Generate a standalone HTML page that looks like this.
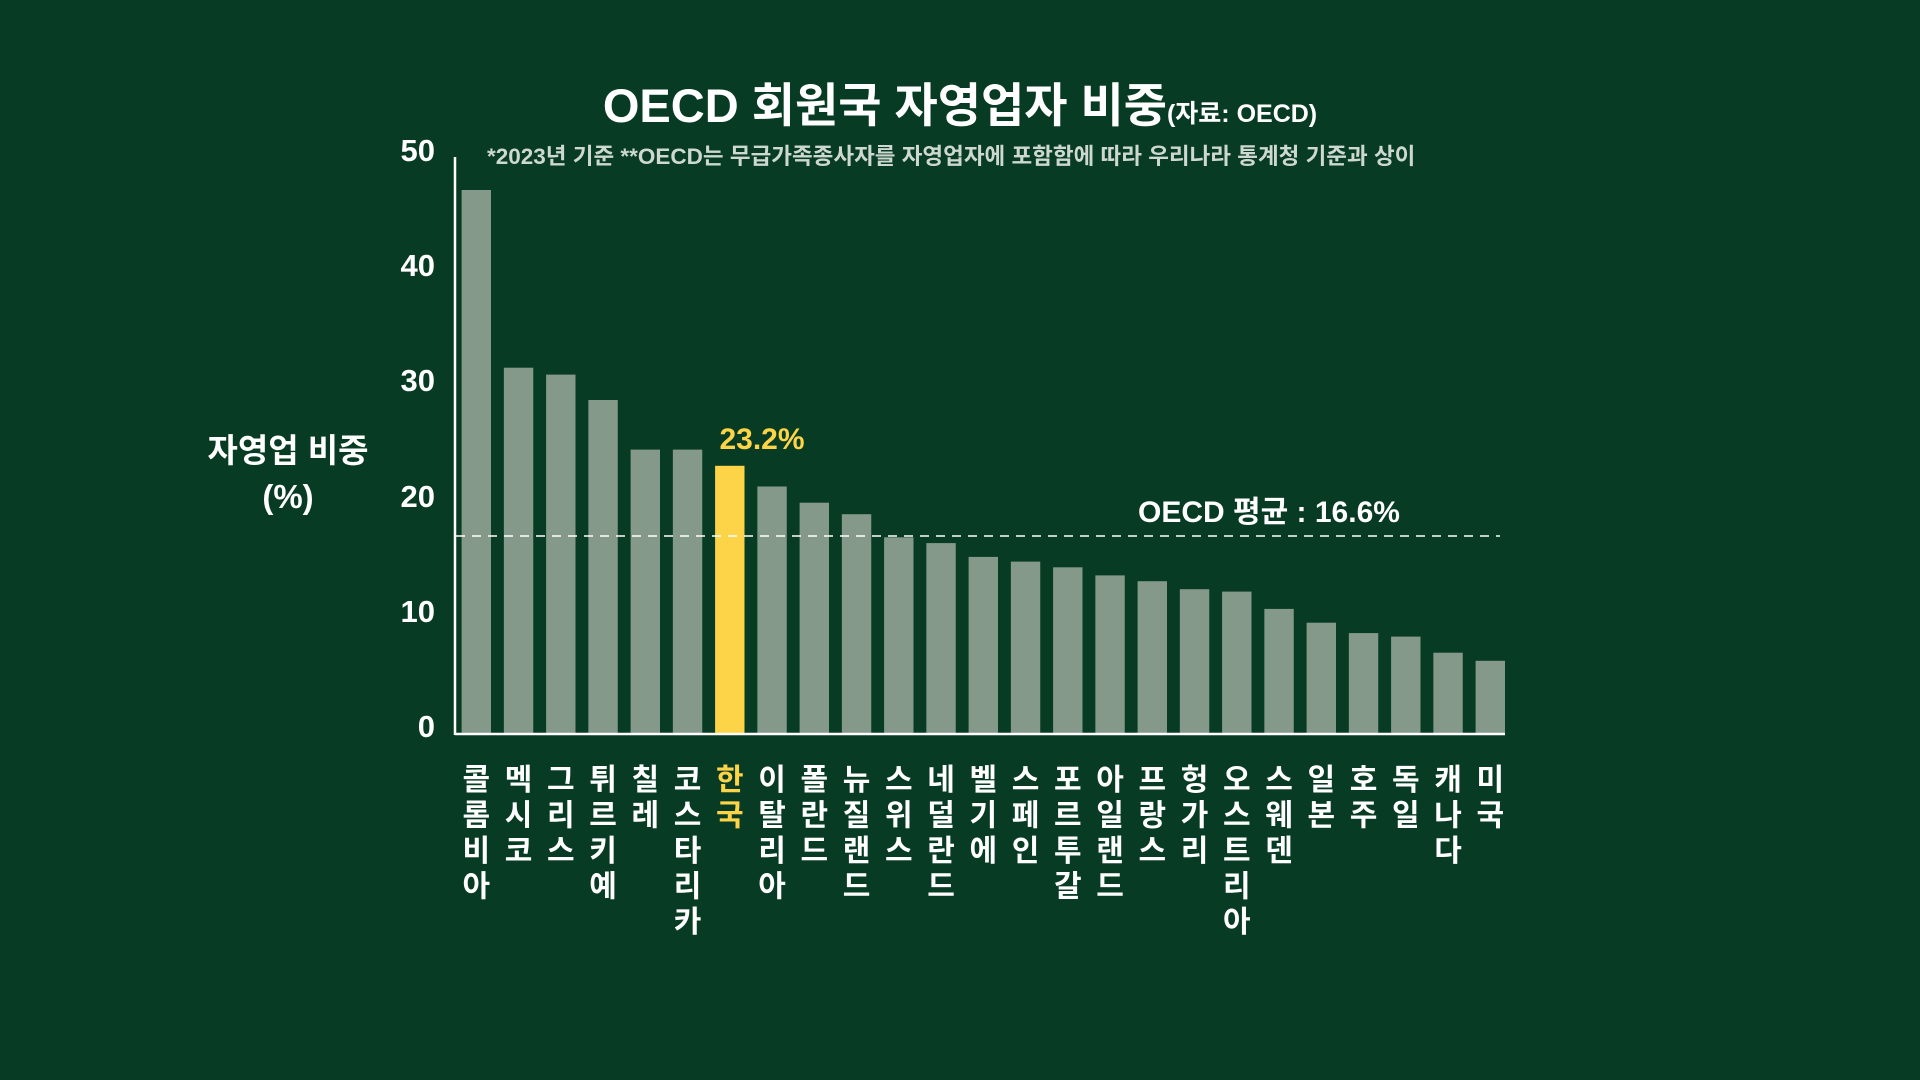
<!DOCTYPE html>
<html><head><meta charset="utf-8"><style>
html,body{margin:0;padding:0;background:#083b23;}
svg{display:block}
text{font-family:"Liberation Sans","Noto Sans CJK KR",sans-serif;font-weight:bold;}
.c{font-size:30px;fill:#fff;text-anchor:middle}
.k{fill:#fdd447}
</style></head><body>
<svg width="1920" height="1080" viewBox="0 0 1920 1080" xmlns="http://www.w3.org/2000/svg">
<rect width="1920" height="1080" fill="#083b23"/>
<text x="960" y="122" text-anchor="middle" fill="#fff" font-size="47">OECD 회원국 자영업자 비중<tspan font-size="25">(자료: OECD)</tspan></text>
<text x="487" y="164" fill="#cdd8d0" font-size="22.5">*2023년 기준  **OECD는 무급가족종사자를 자영업자에 포함함에 따라 우리나라 통계청 기준과 상이</text>
<g fill="#fff" font-size="31" text-anchor="end">
<text x="435" y="737">0</text><text x="435" y="622">10</text><text x="435" y="507">20</text>
<text x="435" y="391">30</text><text x="435" y="276">40</text><text x="435" y="161">50</text>
</g>
<text x="288" y="462" text-anchor="middle" fill="#fff" font-size="33">자영업 비중</text>
<text x="288" y="508" text-anchor="middle" fill="#fff" font-size="33">(%)</text>
<g fill="#84998a">
<rect x="461.6" y="190.0" width="29.4" height="543.5"/>
<rect x="503.85" y="367.7" width="29.4" height="365.8"/>
<rect x="546.1" y="374.6" width="29.4" height="358.9"/>
<rect x="588.35" y="400.0" width="29.4" height="333.5"/>
<rect x="630.6" y="449.6" width="29.4" height="283.9"/>
<rect x="672.85" y="449.6" width="29.4" height="283.9"/>
<rect x="715.1" y="465.8" width="29.4" height="267.7" fill="#fdd447"/>
<rect x="757.35" y="486.5" width="29.4" height="247.0"/>
<rect x="799.6" y="502.7" width="29.4" height="230.8"/>
<rect x="841.85" y="514.2" width="29.4" height="219.3"/>
<rect x="884.1" y="537.3" width="29.4" height="196.2"/>
<rect x="926.35" y="543.1" width="29.4" height="190.4"/>
<rect x="968.6" y="556.9" width="29.4" height="176.6"/>
<rect x="1010.85" y="561.6" width="29.4" height="171.9"/>
<rect x="1053.1" y="567.3" width="29.4" height="166.2"/>
<rect x="1095.35" y="575.4" width="29.4" height="158.1"/>
<rect x="1137.6" y="581.2" width="29.4" height="152.3"/>
<rect x="1179.85" y="589.2" width="29.4" height="144.3"/>
<rect x="1222.1" y="591.6" width="29.4" height="141.9"/>
<rect x="1264.35" y="608.9" width="29.4" height="124.6"/>
<rect x="1306.6" y="622.7" width="29.4" height="110.8"/>
<rect x="1348.85" y="633.1" width="29.4" height="100.4"/>
<rect x="1391.1" y="636.6" width="29.4" height="96.9"/>
<rect x="1433.35" y="652.7" width="29.4" height="80.8"/>
<rect x="1475.6" y="660.8" width="29.4" height="72.7"/>
</g>
<line x1="455" y1="157" x2="455" y2="735" stroke="#fff" stroke-width="2.5"/>
<line x1="455" y1="734" x2="1505" y2="734" stroke="#fff" stroke-width="2.5"/>
<line x1="456" y1="536" x2="1500" y2="536" stroke="#fff" stroke-width="1.5" stroke-dasharray="9,7"/>
<text x="1138" y="522" fill="#fff" font-size="30">OECD 평균 : 16.6%</text>
<text x="762" y="449" text-anchor="middle" fill="#fdd447" font-size="30">23.2%</text>
<text class="c" x="476.3" y="790">콜<tspan x="476.3" dy="35.5">롬</tspan><tspan x="476.3" dy="35.5">비</tspan><tspan x="476.3" dy="35.5">아</tspan></text>
<text class="c" x="518.55" y="790">멕<tspan x="518.55" dy="35.5">시</tspan><tspan x="518.55" dy="35.5">코</tspan></text>
<text class="c" x="560.8" y="790">그<tspan x="560.8" dy="35.5">리</tspan><tspan x="560.8" dy="35.5">스</tspan></text>
<text class="c" x="603.05" y="790">튀<tspan x="603.05" dy="35.5">르</tspan><tspan x="603.05" dy="35.5">키</tspan><tspan x="603.05" dy="35.5">예</tspan></text>
<text class="c" x="645.3" y="790">칠<tspan x="645.3" dy="35.5">레</tspan></text>
<text class="c" x="687.55" y="790">코<tspan x="687.55" dy="35.5">스</tspan><tspan x="687.55" dy="35.5">타</tspan><tspan x="687.55" dy="35.5">리</tspan><tspan x="687.55" dy="35.5">카</tspan></text>
<text class="c k" x="729.8" y="790">한<tspan x="729.8" dy="35.5">국</tspan></text>
<text class="c" x="772.05" y="790">이<tspan x="772.05" dy="35.5">탈</tspan><tspan x="772.05" dy="35.5">리</tspan><tspan x="772.05" dy="35.5">아</tspan></text>
<text class="c" x="814.3" y="790">폴<tspan x="814.3" dy="35.5">란</tspan><tspan x="814.3" dy="35.5">드</tspan></text>
<text class="c" x="856.55" y="790">뉴<tspan x="856.55" dy="35.5">질</tspan><tspan x="856.55" dy="35.5">랜</tspan><tspan x="856.55" dy="35.5">드</tspan></text>
<text class="c" x="898.8" y="790">스<tspan x="898.8" dy="35.5">위</tspan><tspan x="898.8" dy="35.5">스</tspan></text>
<text class="c" x="941.05" y="790">네<tspan x="941.05" dy="35.5">덜</tspan><tspan x="941.05" dy="35.5">란</tspan><tspan x="941.05" dy="35.5">드</tspan></text>
<text class="c" x="983.3" y="790">벨<tspan x="983.3" dy="35.5">기</tspan><tspan x="983.3" dy="35.5">에</tspan></text>
<text class="c" x="1025.55" y="790">스<tspan x="1025.55" dy="35.5">페</tspan><tspan x="1025.55" dy="35.5">인</tspan></text>
<text class="c" x="1067.8" y="790">포<tspan x="1067.8" dy="35.5">르</tspan><tspan x="1067.8" dy="35.5">투</tspan><tspan x="1067.8" dy="35.5">갈</tspan></text>
<text class="c" x="1110.05" y="790">아<tspan x="1110.05" dy="35.5">일</tspan><tspan x="1110.05" dy="35.5">랜</tspan><tspan x="1110.05" dy="35.5">드</tspan></text>
<text class="c" x="1152.3" y="790">프<tspan x="1152.3" dy="35.5">랑</tspan><tspan x="1152.3" dy="35.5">스</tspan></text>
<text class="c" x="1194.55" y="790">헝<tspan x="1194.55" dy="35.5">가</tspan><tspan x="1194.55" dy="35.5">리</tspan></text>
<text class="c" x="1236.8" y="790">오<tspan x="1236.8" dy="35.5">스</tspan><tspan x="1236.8" dy="35.5">트</tspan><tspan x="1236.8" dy="35.5">리</tspan><tspan x="1236.8" dy="35.5">아</tspan></text>
<text class="c" x="1279.05" y="790">스<tspan x="1279.05" dy="35.5">웨</tspan><tspan x="1279.05" dy="35.5">덴</tspan></text>
<text class="c" x="1321.3" y="790">일<tspan x="1321.3" dy="35.5">본</tspan></text>
<text class="c" x="1363.55" y="790">호<tspan x="1363.55" dy="35.5">주</tspan></text>
<text class="c" x="1405.8" y="790">독<tspan x="1405.8" dy="35.5">일</tspan></text>
<text class="c" x="1448.05" y="790">캐<tspan x="1448.05" dy="35.5">나</tspan><tspan x="1448.05" dy="35.5">다</tspan></text>
<text class="c" x="1490.3" y="790">미<tspan x="1490.3" dy="35.5">국</tspan></text>
</svg>
</body></html>
